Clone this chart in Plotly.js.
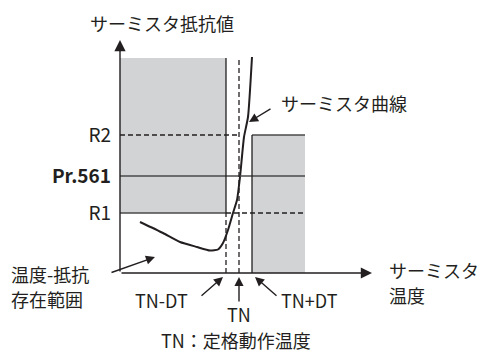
<!DOCTYPE html>
<html>
<head>
<meta charset="utf-8">
<script src="https://cdn.plot.ly/plotly-3.0.1.min.js"></script>
<style>
  html, body { margin: 0; padding: 0; background: #fff; }
  #chart { width: 481px; height: 352px; }
</style>
</head>
<body>
<div id="chart"></div>
<script>
// temperature / resistance values in chart units (origin at the axes crossing)
const tn = 119;
const dt = 13;
const topResistance = 215;
const rightTemp = 185;
const levelNames = ['R1', '<b>Pr.561</b>', 'R2'];
const levelValues = [60, 97, 138];

// thermistor curve
const curveTemp = [20, 43, 60, 77, 90, 98, 103, 108, 113, 117, 120, 124, 128, 132];
const curveRes  = [51, 40, 31, 26, 22.5, 23.5, 30, 43, 60, 73, 96, 136, 156, 216];

const xMax = 252;
const yMax = 233;

const font = 'Noto Sans CJK JP, Noto Sans, sans-serif';
const gray = '#d1d3d4';
const lineCol = '#4a4a4a';
const ink = '#231f20';

const [r1, pr561, r2] = levelValues;
const tnLo = tn - dt;
const tnHi = tn + dt;

const traces = [{
  x: curveTemp,
  y: curveRes,
  type: 'scatter',
  mode: 'lines',
  line: { color: ink, width: 2, shape: 'spline', smoothing: 0.5 },
  hoverinfo: 'skip'
}];

function seg(x0, y0, x1, y1, color, dash) {
  return {
    type: 'line', xref: 'x', yref: 'y', x0, y0, x1, y1,
    line: { color, width: 1.3, dash: dash || 'solid' }
  };
}

const shapes = [
  // gray zones
  { type: 'rect', xref: 'x', yref: 'y', x0: 0, x1: tnLo, y0: r1, y1: topResistance,
    fillcolor: gray, line: { width: 0 }, layer: 'below' },
  { type: 'rect', xref: 'x', yref: 'y', x0: tnHi, x1: rightTemp, y0: 0, y1: r2,
    fillcolor: gray, line: { width: 0 }, layer: 'below' },
  // horizontal levels
  seg(0, r2, tn, r2, ink, '5px,3px'),
  seg(tnHi, r2, rightTemp, r2, lineCol),
  seg(0, pr561, rightTemp, pr561, lineCol),
  seg(0, r1, tnLo, r1, lineCol),
  seg(tnLo, r1, rightTemp, r1, ink, '5px,3px'),
  // vertical temperature marks
  seg(tnLo, r1, tnLo, topResistance, ink),
  seg(tnLo, 0, tnLo, r1, ink, '5px,3px'),
  seg(tn, 0, tn, topResistance, ink, '5px,3px'),
  seg(tnHi, 0, tnHi, r2, ink)
];

// annotations use paper coords so that ones outside the axis ranges still show
const px = v => v / xMax;
const py = v => v / yMax;

function arrow(tipX, tipY, tailX, tailY, size) {
  return {
    x: px(tipX), y: py(tipY), ax: tailX - tipX, ay: -(tailY - tipY),
    xref: 'paper', yref: 'paper',
    text: '', showarrow: true, arrowhead: 2, arrowsize: size || 1.3,
    arrowwidth: 1.4, arrowcolor: ink, standoff: 0, startstandoff: 0
  };
}

function label(x, y, text, xanchor) {
  return {
    x: px(x), y: py(y), xref: 'paper', yref: 'paper', text, showarrow: false,
    xanchor: xanchor || 'center', yanchor: 'middle', align: 'left',
    borderpad: 0,
    font: { family: font, size: 18, color: ink }
  };
}

const annotations = [
  // axes
  arrow(0, yMax, 0, 0, 1.6),
  arrow(xMax, 0, 0, 0, 1.6),
  // pointers
  arrow(129, 151, 152, 165),
  arrow(35, 16, -10, 0),
  arrow(103, -4, 80, -24),
  arrow(tn, -4, tn, -30),
  arrow(135, -4, 158, -24),
  // texts
  label(42, 250, 'サーミスタ抵抗値'),
  label(160, 170, 'サーミスタ曲線', 'left'),
  label(-110, -0.5, '温度-抵抗', 'left'),
  label(-110, -25.5, '存在範囲', 'left'),
  label(41.5, -27, 'TN-DT'),
  label(tn, -41, 'TN'),
  label(160, -27, 'TN+DT', 'left'),
  label(268, 3, 'サーミスタ', 'left'),
  label(268, -22, '温度', 'left'),
  label(40, -67, 'TN：定格動作温度', 'left')
];

const layout = {
  width: 481,
  height: 352,
  margin: { l: 120, r: 109, t: 40, b: 79 },
  paper_bgcolor: '#fff',
  plot_bgcolor: 'rgba(0,0,0,0)',
  showlegend: false,
  xaxis: {
    range: [0, xMax], showgrid: false, zeroline: false, showline: false,
    showticklabels: false, ticks: '', fixedrange: true
  },
  yaxis: {
    range: [0, yMax], showgrid: false, zeroline: false, showline: false,
    tickvals: levelValues, ticktext: levelNames, ticks: '',
    ticklabelstandoff: 8,
    tickfont: { family: font, size: 19, color: ink }, fixedrange: true
  },
  shapes,
  annotations
};

Plotly.newPlot('chart', traces, layout, { staticPlot: true, displayModeBar: false });
</script>
</body>
</html>
